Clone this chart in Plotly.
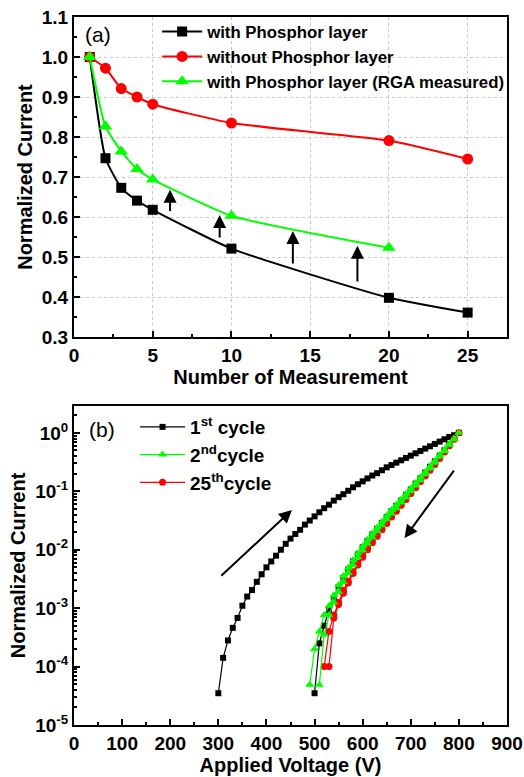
import plotly.graph_objects as go

# ---------------- Panel (a) data ----------------
meas_n = [1, 2, 3, 4, 5, 10, 20, 25]
with_phosphor = [1.0, 0.747, 0.673, 0.641, 0.618, 0.521, 0.398, 0.361]
without_phosphor = [1.0, 0.972, 0.921, 0.900, 0.882, 0.835, 0.791, 0.745]
meas_n_rga = [1, 2, 3, 4, 5, 10, 20]
with_phosphor_rga = [1.0, 0.826, 0.764, 0.720, 0.694, 0.603, 0.523]

# ---------------- Panel (b) data ----------------
# 1st cycle: up-sweep 300 -> 800 V, then down-sweep 790 -> 500 V
v1_up = list(range(300, 810, 10))
c1_up = [3.5e-5, 1.41e-4, 2.8e-4, 4.6e-4, 6.8e-4, 1.1e-3, 1.58e-3, 2.04e-3, 2.82e-3, 3.8e-3,
         5.0e-3, 6.3e-3, 7.9e-3, 1.0e-2, 1.26e-2, 1.55e-2, 1.86e-2, 2.19e-2, 2.69e-2, 3.16e-2,
         3.72e-2, 4.37e-2, 5.13e-2, 5.89e-2, 6.92e-2, 7.94e-2, 8.91e-2, 0.102, 0.117, 0.132,
         0.148, 0.166, 0.186, 0.204, 0.229, 0.257, 0.282, 0.309, 0.339, 0.372,
         0.407, 0.447, 0.490, 0.537, 0.589, 0.646, 0.708, 0.776, 0.851, 0.912, 1.0]
v1_down = list(range(790, 490, -10))
c1_down = [0.794, 0.631, 0.501, 0.407, 0.324, 0.263, 0.209, 0.166, 0.135, 0.107,
           0.0871, 0.0692, 0.0562, 0.0457, 0.0363, 0.0288, 0.0229, 0.0182, 0.0141, 0.011,
           0.0083, 0.0063, 0.0046, 0.0033, 0.0023, 0.0015, 0.00093, 0.0005, 0.00025, 3.5e-5]

# 2nd cycle: up-sweep 490 -> 800 V, down-sweep 790 -> 510 V
v2_up = list(range(490, 810, 10))
c2_up = [4.9e-5, 2.0e-4, 4.0e-4, 7.6e-4, 1.1e-3, 1.66e-3, 2.5e-3, 3.55e-3, 4.9e-3, 6.6e-3,
         8.7e-3, 1.15e-2, 1.48e-2, 1.9e-2, 2.4e-2, 3.0e-2, 3.8e-2, 4.8e-2, 5.9e-2, 7.2e-2,
         9.1e-2, 0.112, 0.138, 0.174, 0.214, 0.269, 0.331, 0.417, 0.513, 0.646, 0.794, 1.0]
v2_down = list(range(790, 500, -10))
c2_down = [0.776, 0.617, 0.490, 0.389, 0.309, 0.245, 0.195, 0.155, 0.126, 0.1,
           0.0794, 0.0646, 0.0513, 0.0417, 0.0331, 0.0263, 0.0209, 0.0162, 0.0126, 0.0098,
           0.0074, 0.0055, 0.004, 0.0028, 0.0019, 0.00126, 0.00076, 0.00035, 4.9e-5]

# 25th cycle: up-sweep 520 -> 800 V, down-sweep 790 -> 530 V
v25_up = list(range(520, 810, 10))
c25_up = [1.0e-4, 4.0e-4, 7.6e-4, 1.26e-3, 2.0e-3, 2.9e-3, 4.2e-3, 5.9e-3, 7.9e-3, 1.07e-2,
          1.41e-2, 1.82e-2, 2.34e-2, 3.0e-2, 3.9e-2, 4.9e-2, 6.2e-2, 7.8e-2, 9.5e-2, 0.12,
          0.151, 0.191, 0.24, 0.302, 0.38, 0.49, 0.617, 0.794, 1.0]
v25_down = list(range(790, 520, -10))
c25_down = [0.776, 0.603, 0.468, 0.363, 0.288, 0.229, 0.182, 0.145, 0.115, 0.0912,
            0.0724, 0.0575, 0.0457, 0.0363, 0.0282, 0.0219, 0.017, 0.0132, 0.01, 0.0074,
            0.0055, 0.0039, 0.0027, 0.0018, 0.00115, 0.00068, 1.0e-4]

y_ticks_b = [1e-5, 1e-4, 1e-3, 1e-2, 1e-1, 1]
y_ticktext_b = ["10<sup>-5</sup>", "10<sup>-4</sup>", "10<sup>-3</sup>", "10<sup>-2</sup>",
                "10<sup>-1</sup>", "10<sup>0</sup>"]

BLACK = "#000000"
RED = "#ff0000"
GREEN = "#00ff00"
FONT = "Liberation Sans, Arial, sans-serif"

fig = go.Figure()

# ---- panel (a) traces
fig.add_trace(go.Scatter(x=meas_n, y=with_phosphor, mode="lines+markers", name="with Phosphor layer",
                         line=dict(color=BLACK, width=2, shape="spline", smoothing=0.5),
                         marker=dict(symbol="square", size=10, color=BLACK),
                         xaxis="x", yaxis="y", legend="legend"))
fig.add_trace(go.Scatter(x=meas_n, y=without_phosphor, mode="lines+markers", name="without Phosphor layer",
                         line=dict(color=RED, width=2, shape="spline", smoothing=0.5),
                         marker=dict(symbol="circle", size=11, color=RED),
                         xaxis="x", yaxis="y", legend="legend"))
fig.add_trace(go.Scatter(x=meas_n_rga, y=with_phosphor_rga, mode="lines+markers",
                         name="with Phosphor layer (RGA measured)",
                         line=dict(color=GREEN, width=2, shape="spline", smoothing=0.5),
                         marker=dict(symbol="triangle-up", size=12, color=GREEN),
                         xaxis="x", yaxis="y", legend="legend"))

# ---- panel (b) traces
fig.add_trace(go.Scatter(x=v1_up + v1_down, y=c1_up + c1_down, mode="lines+markers",
                         name="1<sup>st</sup> cycle",
                         line=dict(color=BLACK, width=1.2),
                         marker=dict(symbol="square", size=6, color=BLACK),
                         xaxis="x2", yaxis="y2", legend="legend2", legendrank=1))
fig.add_trace(go.Scatter(x=v25_up + v25_down, y=c25_up + c25_down, mode="lines+markers",
                         name="25<sup>th</sup>cycle",
                         line=dict(color=RED, width=1.2),
                         marker=dict(symbol="circle", size=7, color=RED),
                         xaxis="x2", yaxis="y2", legend="legend2", legendrank=3))
fig.add_trace(go.Scatter(x=v2_up + v2_down, y=c2_up + c2_down, mode="lines+markers",
                         name="2<sup>nd</sup>cycle",
                         line=dict(color=GREEN, width=1.2),
                         marker=dict(symbol="triangle-up", size=8, color=GREEN),
                         xaxis="x2", yaxis="y2", legend="legend2", legendrank=2))

TICKFONT = dict(family=FONT, size=19, color="black", weight="bold")
TITLEFONT = dict(family=FONT, size=20, color="black", weight="bold")
axis_common = dict(showline=True, linecolor="black", linewidth=2, mirror=True,
                   ticks="inside", ticklen=6, tickwidth=1.5, tickcolor="black",
                   tickfont=TICKFONT, zeroline=False, automargin=False)

fig.update_layout(
    width=524, height=777,
    margin=dict(l=74, r=17, t=17, b=52),
    paper_bgcolor="white", plot_bgcolor="white",
    showlegend=True,
    xaxis=dict(domain=[0, 1], anchor="y", range=[0, 27.5], dtick=5, tick0=0,
               showgrid=True, gridcolor="#c8c8c8", griddash="dot", gridwidth=1,
               minor=dict(ticks="inside", ticklen=3, dtick=2.5, tickcolor="black", showgrid=False),
               title=dict(text="Number of Measurement", standoff=2, font=TITLEFONT),
               **axis_common),
    yaxis=dict(domain=[0.548, 1], anchor="x", range=[0.3, 1.1], dtick=0.1, tick0=0.3,
               tickformat=".1f",
               showgrid=True, gridcolor="#c8c8c8", griddash="dot", gridwidth=1,
               minor=dict(ticks="inside", ticklen=3, dtick=0.05, tickcolor="black", showgrid=False),
               title=dict(text="Normalized Current", standoff=4, font=TITLEFONT),
               **axis_common),
    xaxis2=dict(domain=[0, 1], anchor="y2", range=[0, 900], dtick=100, tick0=0,
                showgrid=False,
                minor=dict(ticks="inside", ticklen=3, dtick=50, tickcolor="black", showgrid=False),
                title=dict(text="Applied Voltage (V)", standoff=2, font=TITLEFONT),
                **axis_common),
    yaxis2=dict(domain=[0, 0.4506], anchor="x2", type="log", range=[-5, 0.46],
                tickmode="array", tickvals=y_ticks_b, ticktext=y_ticktext_b,
                showgrid=False,
                minor=dict(ticks="inside", ticklen=3, dtick="D1", tickcolor="black", showgrid=False),
                title=dict(text="Normalized Current", standoff=4, font=TITLEFONT),
                **axis_common),
    legend=dict(x=0.192, y=1.004, xanchor="left", yanchor="top", bgcolor="rgba(0,0,0,0)",
                font=dict(family=FONT, size=16.8, color="black", weight="bold"),
                tracegroupgap=0, itemwidth=40),
    legend2=dict(x=0.141, y=0.4477, xanchor="left", yanchor="top", bgcolor="rgba(0,0,0,0)",
                 font=dict(family=FONT, size=19, color="black", weight="bold"),
                 tracegroupgap=0, itemwidth=45),
)

annos = [
    dict(text="(a)", x=0.0208, y=0.9746, xref="paper", yref="paper", xanchor="left", yanchor="middle",
         showarrow=False, font=dict(family=FONT, size=21, color="black")),
    dict(text="(b)", x=0.030, y=0.4167, xref="paper", yref="paper", xanchor="left", yanchor="middle",
         showarrow=False, font=dict(family=FONT, size=21, color="black")),
]
# upward arrows in panel (a): (x, tail y, head y)
arrows_a = [(6.1, 0.611, 0.668), (9.25, 0.545, 0.605), (13.9, 0.48, 0.565), (18.0, 0.435, 0.528)]
for ax_, y0, y1 in arrows_a:
    annos.append(dict(x=ax_, y=y1, ax=ax_, ay=y0, xref="x", yref="y", axref="x", ayref="y",
                      text="", showarrow=True, arrowhead=2, arrowsize=1.3, arrowwidth=2,
                      arrowcolor="black"))
# sweep direction arrows in panel (b) (y in log10 units)
arrows_b = [((303, -2.47), (453, -1.32)), ((792, -0.62), (687, -1.80))]
for (x0, y0), (x1, y1) in arrows_b:
    annos.append(dict(x=x1, y=y1, ax=x0, ay=y0, xref="x2", yref="y2", axref="x2", ayref="y2",
                      text="", showarrow=True, arrowhead=2, arrowsize=1.3, arrowwidth=2,
                      arrowcolor="black"))
fig.update_layout(annotations=annos)

# remove the default 8px page margin so the figure sits at the window origin
fig.write_html("out.html", config={"displayModeBar": False},
               post_script="document.body.style.margin='0';document.body.style.overflow='hidden';")
